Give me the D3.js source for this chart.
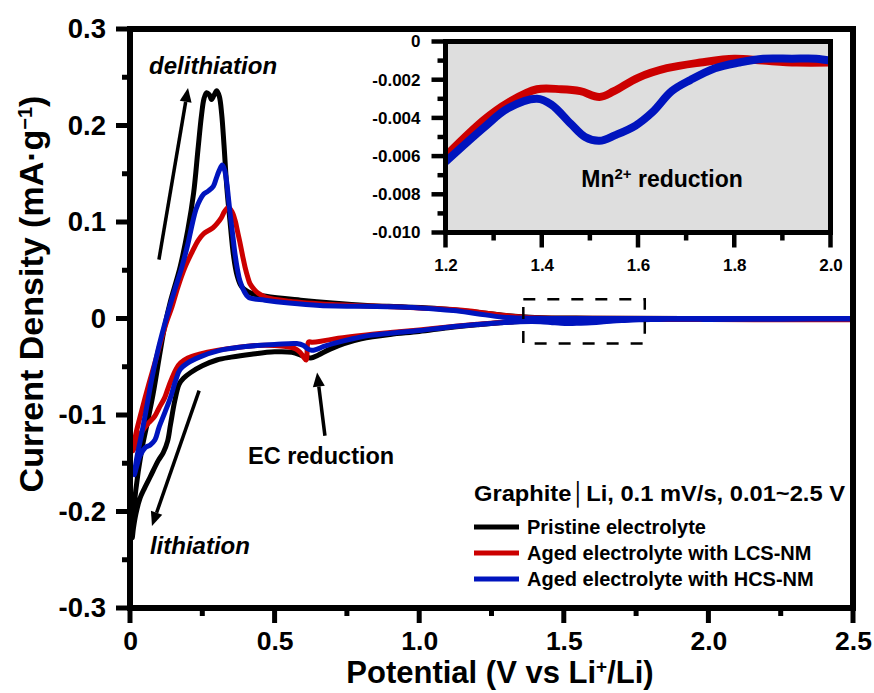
<!DOCTYPE html>
<html><head><meta charset="utf-8">
<script src="https://cdn.jsdelivr.net/npm/d3@7"></script>
<style>
body{margin:0;background:#fff;}
svg text{font-family:"Liberation Sans",Arial,Helvetica,sans-serif;font-weight:bold;fill:#000000;}
</style></head><body>
<svg id="chart" width="874" height="693"></svg>
<script>
// ---------------- data ----------------
const seriesNames = ["Pristine electrolyte", "Aged electrolyte with LCS-NM", "Aged electrolyte with HCS-NM"];
const seriesColors = ["#000000", "#cc0000", "#0014be"];
const INK = "#000000";

const xTickValues = [0, 0.5, 1.0, 1.5, 2.0, 2.5];
const xTickLabels = ["0", "0.5", "1.0", "1.5", "2.0", "2.5"];
const yTickValues = [0.3, 0.2, 0.1, 0, -0.1, -0.2, -0.3];
const yTickLabels = ["0.3", "0.2", "0.1", "0", "-0.1", "-0.2", "-0.3"];
const insetXTickValues = [1.2, 1.4, 1.6, 1.8, 2.0];
const insetXTickLabels = ["1.2", "1.4", "1.6", "1.8", "2.0"];
const insetYTickValues = [0, -0.002, -0.004, -0.006, -0.008, -0.010];
const insetYTickLabels = ["0", "-0.002", "-0.004", "-0.006", "-0.008", "-0.010"];

// [potential (V), current density (mA/g)] — cathodic sweep 2.5 -> 0.01 V
const pristineCathodic = [[2.5,0.0],[2.2,-0.0003],[1.9,-0.0006],[1.7,-0.001],[1.5,-0.0018],[1.35,-0.003],[1.2,-0.0065],[1.1,-0.0095],[1.0,-0.0135],[0.9,-0.0165],[0.8,-0.021],[0.74,-0.026],[0.69,-0.032],[0.65,-0.038],[0.625,-0.041],[0.6,-0.039],[0.56,-0.035],[0.5,-0.0345],[0.42,-0.037],[0.35,-0.040],[0.3,-0.043],[0.25,-0.049],[0.21,-0.056],[0.185,-0.062],[0.17,-0.068],[0.155,-0.085],[0.14,-0.11],[0.13,-0.127],[0.115,-0.139],[0.098,-0.147],[0.07,-0.164],[0.05,-0.176],[0.035,-0.186],[0.02,-0.203],[0.012,-0.217],[0.008,-0.227]];
// anodic sweep 0.01 -> 2.5 V
const pristineAnodic = [[0.008,-0.227],[0.012,-0.205],[0.02,-0.178],[0.04,-0.137],[0.06,-0.108],[0.08,-0.078],[0.104,-0.035],[0.12,-0.008],[0.14,0.018],[0.173,0.053],[0.2,0.092],[0.22,0.13],[0.235,0.175],[0.247,0.21],[0.256,0.228],[0.265,0.234],[0.274,0.232],[0.282,0.227],[0.29,0.231],[0.3,0.236],[0.309,0.23],[0.317,0.212],[0.325,0.18],[0.335,0.135],[0.346,0.100],[0.358,0.065],[0.37,0.045],[0.386,0.033],[0.42,0.026],[0.47,0.023],[0.59,0.019],[0.7,0.016],[0.82,0.0135],[0.95,0.012],[1.07,0.0102],[1.2,0.0065],[1.3,0.003],[1.4,0.001],[1.6,0.0003],[2.0,0.0],[2.5,0.0]];

const lcsCathodic = [[2.5,-0.0012],[2.25,-0.0012],[2.0,-0.0011],[1.93,-0.0011],[1.86,-0.001],[1.8,-0.0009],[1.73,-0.0011],[1.66,-0.0014],[1.6,-0.0019],[1.55,-0.0026],[1.52,-0.0029],[1.48,-0.0026],[1.44,-0.0025],[1.39,-0.0025],[1.33,-0.0032],[1.28,-0.0041],[1.2,-0.006],[1.1,-0.0088],[1.0,-0.0118],[0.9,-0.0145],[0.8,-0.0175],[0.72,-0.0205],[0.66,-0.0235],[0.63,-0.0245],[0.617,-0.0245],[0.609,-0.043],[0.598,-0.039],[0.588,-0.035],[0.57,-0.031],[0.54,-0.029],[0.5,-0.028],[0.44,-0.028],[0.36,-0.0305],[0.3,-0.033],[0.24,-0.037],[0.2,-0.041],[0.175,-0.046],[0.16,-0.052],[0.145,-0.062],[0.133,-0.071],[0.12,-0.082],[0.1,-0.093],[0.086,-0.101],[0.065,-0.108],[0.046,-0.115],[0.025,-0.126],[0.01,-0.137]];
const lcsAnodic = [[0.01,-0.137],[0.02,-0.12],[0.04,-0.096],[0.065,-0.068],[0.086,-0.046],[0.11,-0.02],[0.127,-0.003],[0.145,0.012],[0.165,0.032],[0.19,0.053],[0.215,0.069],[0.236,0.081],[0.255,0.088],[0.271,0.091],[0.287,0.094],[0.3,0.098],[0.315,0.104],[0.327,0.111],[0.34,0.115],[0.352,0.111],[0.363,0.102],[0.372,0.09],[0.38,0.079],[0.39,0.064],[0.398,0.053],[0.407,0.043],[0.415,0.036],[0.43,0.03],[0.444,0.026],[0.47,0.022],[0.55,0.018],[0.7,0.0145],[0.9,0.0122],[1.0,0.011],[1.15,0.0085],[1.3,0.003],[1.4,0.0008],[1.6,0.0002],[2.0,0.0],[2.5,0.0]];

const hcsCathodic = [[2.5,-0.0005],[2.25,-0.0007],[2.0,-0.001],[1.97,-0.0009],[1.92,-0.0009],[1.86,-0.0009],[1.81,-0.0011],[1.76,-0.0014],[1.71,-0.002],[1.67,-0.0026],[1.63,-0.0037],[1.595,-0.0044],[1.553,-0.0049],[1.52,-0.0052],[1.49,-0.005],[1.46,-0.0043],[1.42,-0.0033],[1.39,-0.003],[1.33,-0.0035],[1.28,-0.0045],[1.2,-0.0063],[1.1,-0.009],[1.0,-0.0125],[0.9,-0.0152],[0.83,-0.0175],[0.77,-0.021],[0.715,-0.025],[0.67,-0.029],[0.645,-0.032],[0.628,-0.033],[0.612,-0.031],[0.6,-0.028],[0.576,-0.026],[0.5,-0.027],[0.4,-0.029],[0.31,-0.033],[0.24,-0.040],[0.2,-0.046],[0.173,-0.053],[0.158,-0.064],[0.14,-0.082],[0.121,-0.097],[0.1,-0.113],[0.086,-0.126],[0.07,-0.131],[0.052,-0.134],[0.035,-0.142],[0.025,-0.151],[0.015,-0.162]];
const hcsAnodic = [[0.015,-0.162],[0.025,-0.142],[0.04,-0.12],[0.06,-0.088],[0.075,-0.063],[0.095,-0.035],[0.11,-0.017],[0.133,0.008],[0.155,0.03],[0.179,0.053],[0.2,0.077],[0.213,0.095],[0.228,0.113],[0.242,0.123],[0.255,0.129],[0.27,0.132],[0.288,0.137],[0.298,0.145],[0.308,0.153],[0.319,0.159],[0.327,0.154],[0.334,0.142],[0.34,0.126],[0.346,0.109],[0.355,0.087],[0.363,0.067],[0.372,0.05],[0.38,0.039],[0.395,0.028],[0.41,0.022],[0.467,0.019],[0.55,0.016],[0.657,0.0135],[0.888,0.0122],[1.0,0.011],[1.118,0.0083],[1.2,0.005],[1.29,0.0014],[1.4,0.0002],[1.6,0.0],[2.0,0.0],[2.5,0.0]];

const insetRange = [1.2, 2.0];
const zoomBox = {x0: 1.36, x1: 1.78, y0: -0.026, y1: 0.020};

// ---------------- layout ----------------
const svg = d3.select("#chart");
const M = {left: 130, right: 853, top: 29, bottom: 608};
const x = d3.scaleLinear().domain([0, 2.5]).range([M.left, M.right]);
const y = d3.scaleLinear().domain([-0.3, 0.3]).range([M.bottom, M.top]);

const curve = d3.curveCatmullRom.alpha(0.5);
const line = d3.line().x(d => x(d[0])).y(d => y(d[1])).curve(curve);

const loops = [
  pristineCathodic.concat(pristineAnodic.slice(1)),
  lcsCathodic.concat(lcsAnodic.slice(1)),
  hcsCathodic.concat(hcsAnodic.slice(1))
];

const xMinor = [0.25, 0.75, 1.25, 1.75, 2.25];
const yMinor = [0.25, 0.15, 0.05, -0.05, -0.15, -0.25];

function seg(g, x1, y1, x2, y2, w) {
  g.append("line").attr("x1", x1).attr("y1", y1).attr("x2", x2).attr("y2", y2)
    .attr("stroke", INK).attr("stroke-width", w);
}
function frame(g, L, R, T, B, w) {
  seg(g, L - w / 2, T, R + w / 2, T, w);
  seg(g, L - w / 2, B, R + w / 2, B, w);
  seg(g, L, T, L, B, w);
  seg(g, R, T, R, B, w);
}
function labelsOnly(g, fs) {
  g.select(".domain").remove();
  g.selectAll(".tick line").remove();
  g.selectAll(".tick text").style("font-size", fs + "px").attr("fill", INK);
}

// curves
svg.append("g").selectAll("path").data(loops).join("path")
  .attr("d", line)
  .attr("fill", "none")
  .attr("stroke", (d, i) => seriesColors[i])
  .attr("stroke-width", 5)
  .attr("stroke-linejoin", "round")
  .attr("stroke-linecap", "round");

// frame + ticks
const tg = svg.append("g");
xTickValues.forEach(v => seg(tg, x(v), M.bottom, x(v), M.bottom + 15, 5));
xMinor.forEach(v => seg(tg, x(v), M.bottom, x(v), M.bottom + 8, 5));
yTickValues.forEach(v => seg(tg, M.left - 14, y(v), M.left, y(v), 5));
yMinor.forEach(v => seg(tg, M.left - 8, y(v), M.left, y(v), 5));
frame(tg, M.left, M.right, M.top, M.bottom, 6);

// axis labels
const gx = svg.append("g").attr("transform", `translate(0,${M.bottom})`)
  .call(d3.axisBottom(x).tickValues(xTickValues).tickFormat((d, i) => xTickLabels[i]).tickSize(15).tickPadding(8));
labelsOnly(gx, 26.5);
const gy = svg.append("g").attr("transform", `translate(${M.left},0)`)
  .call(d3.axisLeft(y).tickValues(yTickValues).tickFormat((d, i) => yTickLabels[i]).tickSize(14).tickPadding(10));
labelsOnly(gy, 27.5);

// dashed zoom box
svg.append("path")
  .attr("d", `M${x(zoomBox.x0)},${y(zoomBox.y1)}H${x(zoomBox.x1)}V${y(zoomBox.y0)}H${x(zoomBox.x0)}Z`)
  .attr("fill", "none").attr("stroke", INK).attr("stroke-width", 2.5)
  .attr("stroke-dasharray", "12,12");

// arrows
const arrows = [
  {from: [0.100, 0.061], to: [0.2006, 0.2388]},
  {from: [0.239, -0.0748], to: [0.076, -0.215]},
  {from: [0.674, -0.1215], to: [0.647, -0.056]}
];
const ag = svg.append("g");
arrows.forEach(a => {
  const x1 = x(a.from[0]), y1 = y(a.from[1]), x2 = x(a.to[0]), y2 = y(a.to[1]);
  const ang = Math.atan2(y2 - y1, x2 - x1);
  const L = 14, W = 6;
  const bx = x2 - L * Math.cos(ang), by = y2 - L * Math.sin(ang);
  const nx = -Math.sin(ang), ny = Math.cos(ang);
  seg(ag, x1, y1, bx, by, 3.5);
  ag.append("path").attr("d", `M${bx + nx * W},${by + ny * W}L${x2},${y2}L${bx - nx * W},${by - ny * W}Z`)
    .attr("fill", INK);
});

// annotation texts
svg.append("text").attr("x", x(0.066)).attr("y", y(0.2534)).style("font-size", "24px").style("font-style", "italic").text("delithiation");
svg.append("text").attr("x", x(0.069)).attr("y", y(-0.244)).style("font-size", "24px").style("font-style", "italic").text("lithiation");
svg.append("text").attr("x", x(0.408)).attr("y", y(-0.1506)).style("font-size", "23.5px").text("EC reduction");

// axis titles
const xt = svg.append("text").attr("x", 500).attr("y", 683).attr("text-anchor", "middle").style("font-size", "31px");
xt.append("tspan").text("Potential (V vs Li");
xt.append("tspan").attr("baseline-shift", "super").style("font-size", "19px").text("+");
xt.append("tspan").text("/Li)");

const yt = svg.append("text").attr("transform", "translate(43,294) rotate(-90)").attr("text-anchor", "middle").style("font-size", "34px");
yt.append("tspan").text("Current Density (mA·g");
yt.append("tspan").attr("baseline-shift", "super").style("font-size", "20px").text("−1");
yt.append("tspan").text(")");

// legend
const lg = svg.append("g");
lg.append("text").attr("x", 474).attr("y", 501).style("font-size", "22px")
  .attr("textLength", 371).attr("lengthAdjust", "spacingAndGlyphs")
  .text("Graphite│Li, 0.1 mV/s, 0.01~2.5 V");
seriesNames.forEach((n, i) => {
  const by = 534 + i * 26;
  lg.append("line").attr("x1", 474).attr("x2", 519).attr("y1", by - 7).attr("y2", by - 7)
    .attr("stroke", seriesColors[i]).attr("stroke-width", 5);
  lg.append("text").attr("x", 527).attr("y", by).style("font-size", "20px").text(n);
});

// ---------------- inset ----------------
const I = {left: 445.5, right: 830.5, top: 41.5, bottom: 232.5};
const ix = d3.scaleLinear().domain(insetRange).range([I.left, I.right]);
const iy = d3.scaleLinear().domain([-0.010, 0]).range([I.bottom, I.top]);
const ig = svg.append("g");
ig.append("rect").attr("x", I.left).attr("y", I.top).attr("width", I.right - I.left).attr("height", I.bottom - I.top)
  .attr("fill", "#dedede");
const defs = svg.append("defs");
defs.append("clipPath").attr("id", "iclip").append("rect")
  .attr("x", I.left).attr("y", I.top).attr("width", I.right - I.left).attr("height", I.bottom - I.top);
const iline = d3.line().x(d => ix(d[0])).y(d => iy(d[1])).curve(curve);
const insetSeries = [
  {data: lcsCathodic.filter(d => d[0] >= insetRange[0] && d[0] <= insetRange[1]), color: seriesColors[1]},
  {data: hcsCathodic.filter(d => d[0] >= insetRange[0] && d[0] <= insetRange[1]), color: seriesColors[2]}
];
ig.append("g").attr("clip-path", "url(#iclip)").selectAll("path").data(insetSeries).join("path")
  .attr("d", d => iline(d.data)).attr("fill", "none").attr("stroke", d => d.color)
  .attr("stroke-width", 8).attr("stroke-linejoin", "round");

insetXTickValues.forEach(v => seg(ig, ix(v), I.bottom, ix(v), I.bottom + 15, 4.5));
[1.3, 1.5, 1.7, 1.9].forEach(v => seg(ig, ix(v), I.bottom, ix(v), I.bottom + 8, 4.5));
insetYTickValues.forEach(v => seg(ig, I.left - 14, iy(v), I.left, iy(v), 4.5));
[-0.001, -0.003, -0.005, -0.007, -0.009].forEach(v => seg(ig, I.left - 8, iy(v), I.left, iy(v), 4.5));
frame(ig, I.left, I.right, I.top, I.bottom, 5);

const igx = ig.append("g").attr("transform", `translate(0,${I.bottom})`)
  .call(d3.axisBottom(ix).tickValues(insetXTickValues).tickFormat((d, i) => insetXTickLabels[i]).tickSize(15).tickPadding(11));
labelsOnly(igx, 17);
const igy = ig.append("g").attr("transform", `translate(${I.left},0)`)
  .call(d3.axisLeft(iy).tickValues(insetYTickValues).tickFormat((d, i) => insetYTickLabels[i]).tickSize(14).tickPadding(11));
labelsOnly(igy, 17);

const mt = ig.append("text").attr("x", 662).attr("y", 187).attr("text-anchor", "middle").style("font-size", "23px");
mt.append("tspan").text("Mn");
mt.append("tspan").attr("baseline-shift", "super").style("font-size", "15px").text("2+");
mt.append("tspan").text(" reduction");
</script>
</body></html>
